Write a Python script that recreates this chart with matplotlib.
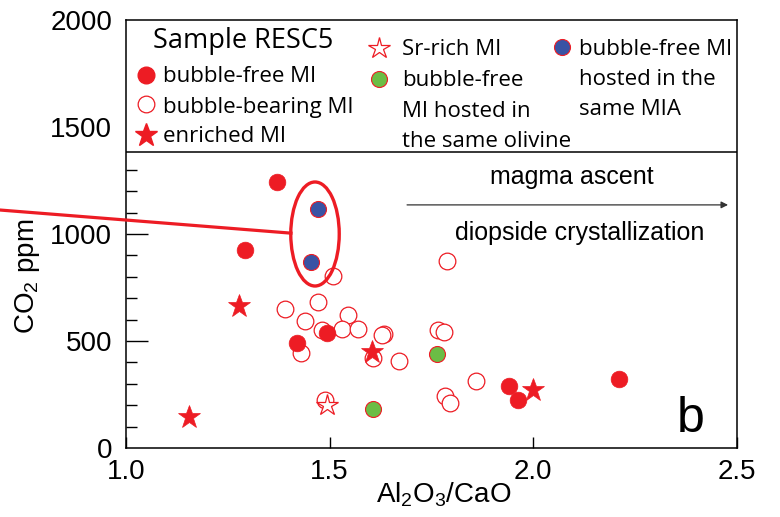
import matplotlib
matplotlib.use("Agg")
import matplotlib.pyplot as plt
from matplotlib.patches import Ellipse
from matplotlib.lines import Line2D

# ---------------- data ----------------
bf_x = [1.371, 1.291, 1.421, 1.493, 1.941, 1.963, 2.210]        # bubble-free MI
bf_y = [1244, 927, 492, 536, 290, 224, 324]
bb_x = [1.507, 1.787, 1.472, 1.391, 1.439, 1.544, 1.481, 1.531, 1.569, 1.634,
        1.629, 1.766, 1.781, 1.429, 1.607, 1.669, 1.859, 1.782, 1.796, 1.489]  # bubble-bearing
bb_y = [804, 875, 684, 651, 595, 621, 551, 558, 556, 531,
        526, 550, 543, 442, 419, 407, 315, 243, 212, 224]
enr_x = [1.278, 1.155, 1.603, 2.000]   # enriched MI
enr_y = [663, 143, 447, 271]
sr_x = [1.494]                          # Sr-rich MI
sr_y = [201]
olv_x = [1.764, 1.606]                  # same olivine
olv_y = [438, 181]
mia_x = [1.471, 1.453]                  # same MIA
mia_y = [1115, 868]

x_ticks = [1.0, 1.5, 2.0, 2.5]
x_ticklabels = ["1.0", "1.5", "2.0", "2.5"]
y_ticks = [0, 500, 1000, 1500, 2000]
y_minor = [100, 200, 300, 400, 600, 700, 800, 900, 1100, 1200, 1300]

RED = "#ED1C24"
GREEN = "#6BBD45"
BLUE = "#3953A4"

NARROW = ["Liberation Sans Narrow", "Liberation Sans", "DejaVu Sans"]
LEG = ["Open Sans", "DejaVu Sans"]
plt.rcParams["font.family"] = NARROW
plt.rcParams["mathtext.default"] = "regular"

fig = plt.figure(figsize=(7.8, 5.17), dpi=100)
ax = fig.add_axes([126 / 780, 69 / 517, 611 / 780, 428 / 517])
ax.set_xlim(1.0, 2.5)
ax.set_ylim(0, 2000)

for s in ax.spines.values():
    s.set_linewidth(1.1)

ax.set_xticks(x_ticks)
ax.set_xticklabels(x_ticklabels)
ax.set_yticks(y_ticks)
ax.set_yticks(y_minor, minor=True)
ax.tick_params(axis="x", which="major", direction="in", length=8, width=1,
               labelsize=20, pad=8)
ax.tick_params(axis="y", which="major", direction="in", length=16, width=1,
               labelsize=20, pad=10)
ax.tick_params(axis="y", which="minor", direction="in", length=8, width=1)
for i, t in enumerate(ax.yaxis.get_major_ticks()):
    if y_ticks[i] in (0, 1500, 2000):
        t.tick1line.set_visible(False)

# ---------------- points ----------------
ms_c = 12
ax.plot(bb_x, bb_y, "o", ms=ms_c, mfc="white", mec=RED, mew=0.9, ls="none", zorder=3)
ax.plot(bf_x, bf_y, "o", ms=ms_c, mfc=RED, mec=RED, mew=0.5, ls="none", zorder=4)
ax.plot(olv_x, olv_y, "o", ms=11.5, mfc=GREEN, mec=RED, mew=0.8, ls="none", zorder=4)
ax.plot(mia_x, mia_y, "o", ms=11.5, mfc=BLUE, mec=RED, mew=0.8, ls="none", zorder=4)
ax.plot(enr_x, enr_y, "*", ms=17, mfc=RED, mec=RED, mew=0.5, ls="none", zorder=5)
ax.plot(sr_x, sr_y, "*", ms=16, mfc="white", mec=RED, mew=0.9, ls="none", zorder=5)

# ellipse around same-MIA pair and red pointer line
ax.add_patch(Ellipse((1.464, 1000), 0.119, 486, fill=False, ec=RED, lw=2.4, zorder=6))
ax.add_line(Line2D([-0.206, 0.270], [0.556, 0.502], transform=ax.transAxes,
                   color=RED, lw=2.3, clip_on=False, zorder=6))

# legend separator
ax.axhline(1383, color="black", lw=1.1, zorder=2)

# arrow and annotations
ax.annotate("", xy=(2.478, 1136), xytext=(1.690, 1136),
            arrowprops=dict(arrowstyle="-|>", color="#333333", lw=0.9,
                            mutation_scale=10, shrinkA=0, shrinkB=0))
ax.text(2.095, 1266, "magma ascent", ha="center", va="center", fontsize=18,
        family=["Liberation Sans", "DejaVu Sans"])
ax.text(2.115, 1005, "diopside crystallization", ha="center", va="center", fontsize=18,
        family=["Liberation Sans", "DejaVu Sans"])
ax.text(0.901, 0.038, "b", transform=ax.transAxes, ha="left", va="baseline",
        fontsize=36, family=["Liberation Sans", "DejaVu Sans"])

# ---------------- custom legend ----------------
T = ax.transAxes
ax.text(0.0447, 0.9346, "Sample RESC5", transform=T, fontsize=19.5, family=LEG,
        va="baseline")
ax.plot([0.0322], [0.8715], "o", transform=T, ms=12, mfc=RED, mec=RED, clip_on=False)
ax.plot([0.0322], [0.803], "o", transform=T, ms=12, mfc="white", mec=RED, mew=0.9, clip_on=False)
ax.plot([0.0322], [0.7313], "*", transform=T, ms=17, mfc=RED, mec=RED, clip_on=False)
for y, s in [(0.8558, "bubble-free MI"), (0.7834, "bubble-bearing MI"),
             (0.7157, "enriched MI")]:
    ax.text(0.0606, y, s, transform=T, fontsize=16, family=LEG, va="baseline")

ax.plot([0.4133], [0.9339], "*", transform=T, ms=16, mfc="white", mec=RED, mew=0.9, clip_on=False)
ax.plot([0.4133], [0.8614], "o", transform=T, ms=11.5, mfc=GREEN, mec=RED, mew=0.8, clip_on=False)
for y, s in [(0.9182, "Sr-rich MI"), (0.8458, "bubble-free"),
             (0.7727, "MI hosted in"), (0.704, "the same olivine")]:
    ax.text(0.4512, y, s, transform=T, fontsize=16, family=LEG, va="baseline")

ax.plot([0.7131], [0.9376], "o", transform=T, ms=11.5, mfc=BLUE, mec=RED, mew=0.8, clip_on=False)
for y, s in [(0.9182, "bubble-free MI"), (0.8481, "hosted in the"),
             (0.778, "same MIA")]:
    ax.text(0.7419, y, s, transform=T, fontsize=16, family=LEG, va="baseline")

# ---------------- axis labels ----------------
ax.text(0.52, -0.1285, "Al$_2$O$_3$/CaO", transform=T, ha="center", va="baseline",
        fontsize=20)
ax.text(-0.162, 0.40, "CO$_2$ ppm", transform=T, ha="center", va="center",
        rotation=90, fontsize=20)

fig.savefig("out.png", dpi=100)
